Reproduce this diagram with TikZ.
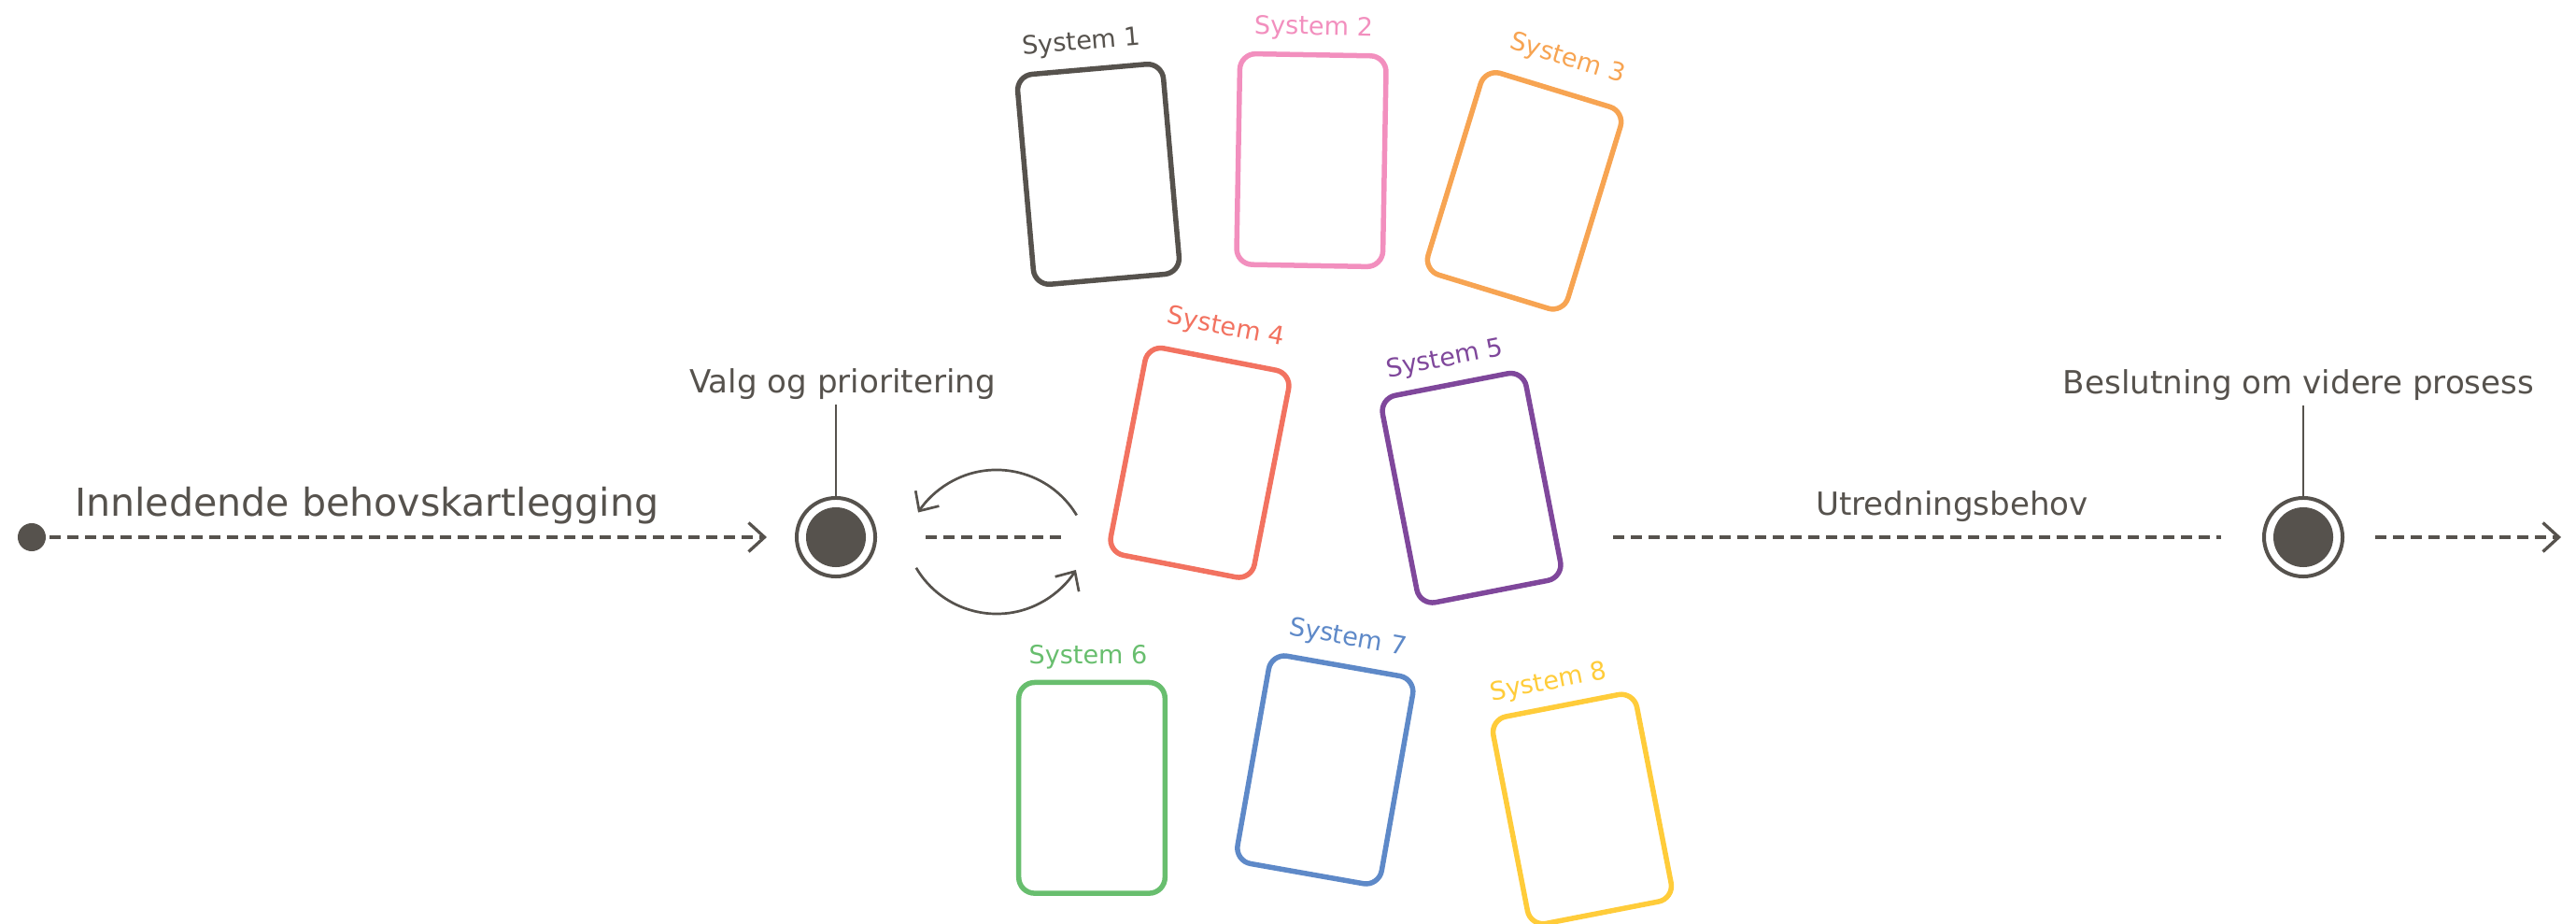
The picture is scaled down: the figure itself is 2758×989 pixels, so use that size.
\documentclass[tikz,border=0pt]{standalone}
\usepackage{fontspec}
\setmainfont{DejaVu Sans}
\usetikzlibrary{arrows.meta,calc}

\definecolor{ink}{RGB}{86,82,77}
\definecolor{sysA}{RGB}{86,82,77}
\definecolor{sysB}{RGB}{242,143,190}
\definecolor{sysC}{RGB}{247,164,82}
\definecolor{sysD}{RGB}{242,114,96}
\definecolor{sysE}{RGB}{127,71,155}
\definecolor{sysF}{RGB}{104,190,110}
\definecolor{sysG}{RGB}{94,137,200}
\definecolor{sysH}{RGB}{255,204,58}

\begin{document}
\begin{tikzpicture}[x=0.01cm,y=0.01cm,
  every node/.style={inner sep=0pt, outer sep=0pt},
  flow/.style={draw=ink, line width=0.033cm, dash pattern=on 0.12cm off 0.07cm},
  chevron/.style={-{Straight Barb[length=0.17cm, width=0.31cm]}},
  stem/.style={draw=ink, line width=0.027cm},
  cycle arrow/.style={draw=ink, line width=0.027cm, -{Straight Barb[length=0.16cm, width=0.30cm]}},
  ring/.style={circle, draw=ink, line width=0.04cm, minimum size=0.84cm},
  core/.style={circle, fill=ink, minimum size=0.64cm},
  bigtext/.style={text=ink, font=\fontsize{11.7}{14}\selectfont},
  midtext/.style={text=ink, font=\fontsize{9.7}{12}\selectfont},
  card/.style={draw=#1, rounded corners=0.17cm, line width=0.055cm,
               minimum width=1.565cm, minimum height=2.255cm},
  syslabel/.style={text=#1, font=\fontsize{7.7}{9}\selectfont}
]
\useasboundingbox (0,0) rectangle (2758,-989);

% --- timeline, left part ---
\node[circle, fill=ink, minimum size=0.30cm] (start) at (34,-575) {};
\node[bigtext, anchor=base west] (intro) at (80,-553) {Innledende behovskartlegging};

\node[ring] (g1) at (895,-575) {};
\node[core] (g1core) at (g1) {};
\node[midtext, anchor=base] (g1lab) at (902,-421) {Valg og prioritering};
\coordinate (g1top) at ($(g1.north |- g1lab.south)+(0,-5)$);
\draw[stem] (g1.north) -- (g1top);

\draw[flow, chevron, shorten <=0.04cm, shorten >=0.32cm] (start) -- (g1.west);

% --- iteration loop next to the first gate ---
\coordinate (loopA) at (991,-575);
\coordinate (loopB) at (1137,-575);
\draw[flow] (loopA) -- (loopB);
\coordinate (upC) at (1067,-603);
\coordinate (loC) at (1067,-557);
\draw[cycle arrow] ($(upC)+(31:100)$) arc[start angle=31, end angle=147, radius=1cm];
\draw[cycle arrow] ($(loC)+(210.5:100)$) arc[start angle=210.5, end angle=328, radius=1cm];

% --- system cards ---
\node[card=sysA, rotate=5]   (s1) at (1176,-186.5) {};
\node[card=sysB, rotate=-1]  (s2) at (1404,-171.5) {};
\node[card=sysC, rotate=-17] (s3) at (1632,-204.3) {};
\node[card=sysD, rotate=-11] (s4) at (1284.5,-495.3) {};
\node[card=sysE, rotate=11]  (s5) at (1575.5,-522.3) {};
\node[card=sysF]             (s6) at (1169,-843.3) {};
\node[card=sysG, rotate=-10] (s7) at (1418.8,-824) {};
\node[card=sysH, rotate=11]  (s8) at (1694,-866) {};

\node[syslabel=sysA, rotate=5]   (s1lab) at (1158,-46)     {System 1};
\node[syslabel=sysB, rotate=-1]  (s2lab) at (1406.5,-30)   {System 2};
\node[syslabel=sysC, rotate=-17] (s3lab) at (1678,-63)     {System 3};
\node[syslabel=sysD, rotate=-11] (s4lab) at (1312.5,-351)  {System 4};
\node[syslabel=sysE, rotate=11]  (s5lab) at (1547,-385)    {System 5};
\node[syslabel=sysF]             (s6lab) at (1165,-703.5)  {System 6};
\node[syslabel=sysG, rotate=-10] (s7lab) at (1443,-683)    {System 7};
\node[syslabel=sysH, rotate=11]  (s8lab) at (1658,-731)    {System 8};

% --- timeline, right part ---
\node[ring] (g2) at (2466,-575) {};
\node[core] (g2core) at (g2) {};
\node[midtext, anchor=base] (g2lab) at (2461,-422) {Beslutning om videre prosess};
\coordinate (g2top) at ($(g2.north |- g2lab.south)+(0,-5)$);
\draw[stem] (g2.north) -- (g2top);

\node[midtext, anchor=base] (need) at (2090,-552) {Utredningsbehov};
\coordinate (needstart) at (1727,-575);
\draw[flow, shorten >=0.46cm] (needstart) -- (g2.west);

\coordinate (finish) at (2742,-575);
\draw[flow, chevron, shorten <=0.35cm] (g2.east) -- (finish);
\end{tikzpicture}
\end{document}
